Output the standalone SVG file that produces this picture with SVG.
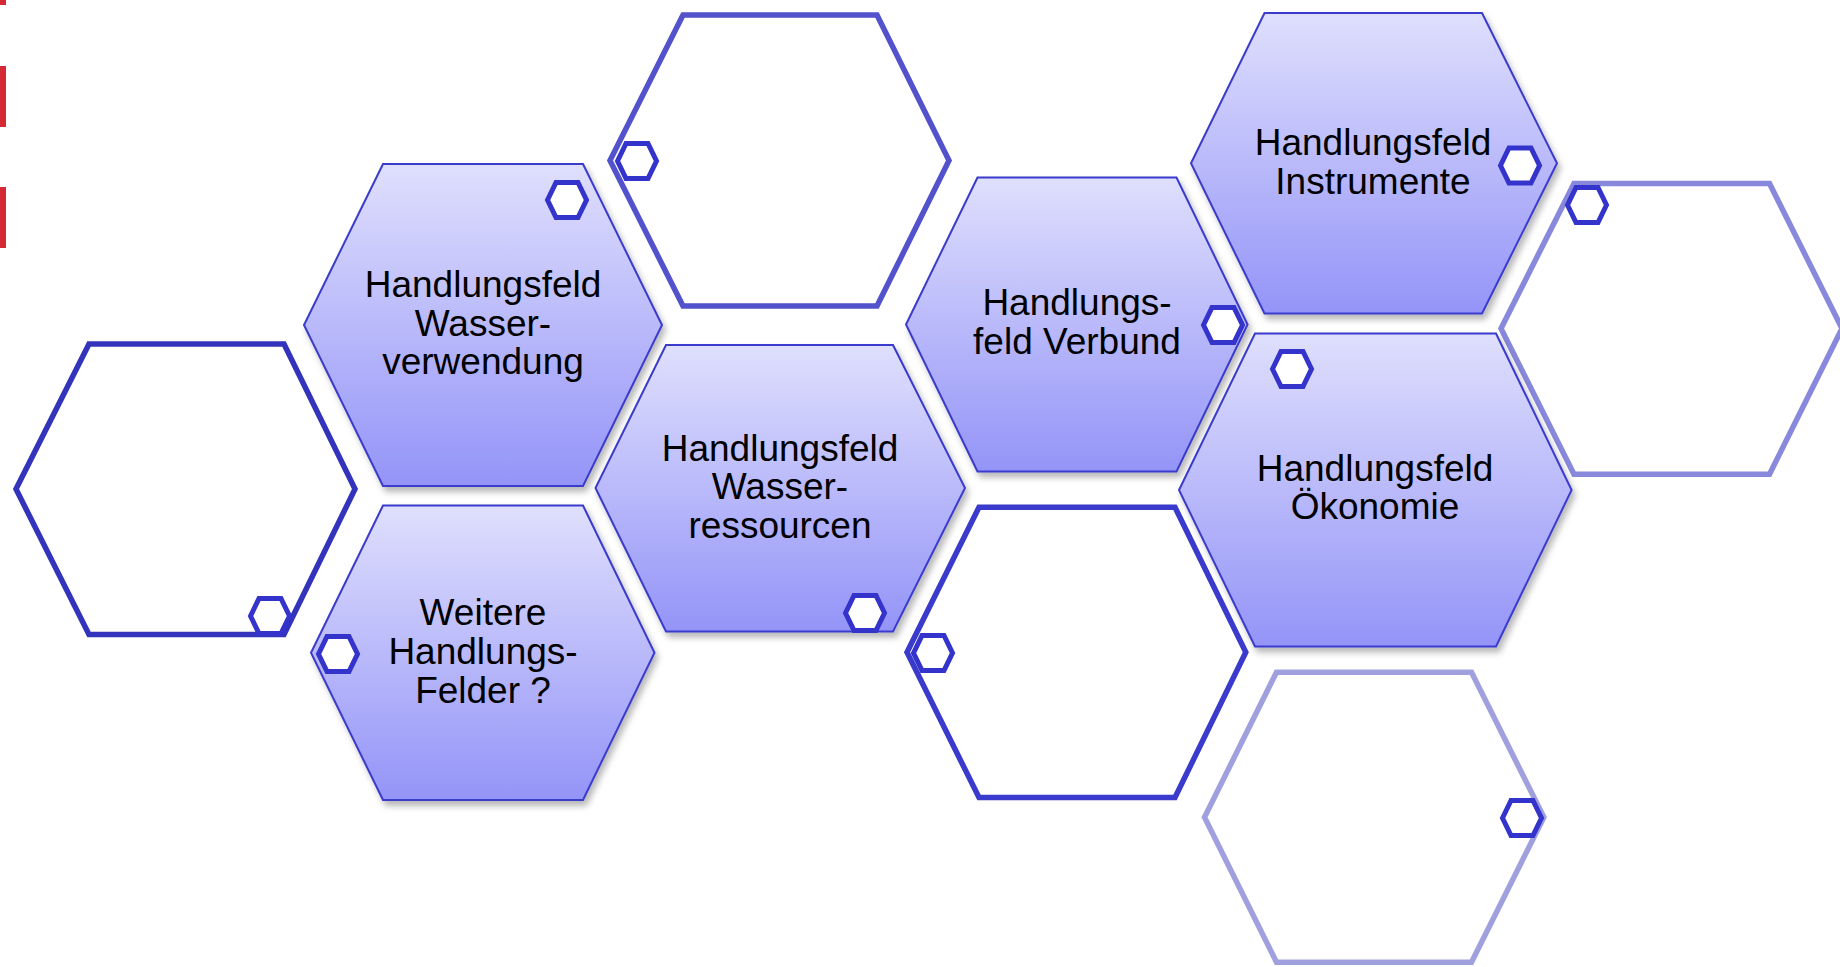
<svg xmlns="http://www.w3.org/2000/svg" width="1840" height="967" viewBox="0 0 1840 967">
<defs>
<linearGradient id="fillGrad" x1="0" y1="0" x2="0" y2="1">
<stop offset="0" stop-color="#dfdffd"/>
<stop offset="1" stop-color="#9494f8"/>
</linearGradient>
<filter id="shadow" x="-10%" y="-10%" width="125%" height="125%">
<feDropShadow dx="3" dy="5" stdDeviation="3" flood-color="#000" flood-opacity="0.28"/>
</filter>
<polygon id="mini" points="-19.5,0 -11,-17.5 11,-17.5 19.5,0 11,17.5 -11,17.5"/>
</defs>
<style>
.filled{fill:url(#fillGrad);stroke:#3a3acc;stroke-width:2;filter:url(#shadow)}
.empty{fill:none;stroke-width:5.5;stroke-linejoin:miter}
.mini{fill:#fff;stroke:#3434cc;stroke-width:5}
.lbl{font-family:"Liberation Sans",Arial,sans-serif;font-size:37px;fill:#000;text-anchor:middle}
.red{fill:#d42a36}
</style>
<rect width="1840" height="967" fill="#fff"/>
<g id="redbars">
<rect class="red" x="0" y="0" width="6" height="5"/>
<rect class="red" x="0" y="66" width="6" height="61"/>
<rect class="red" x="0" y="187" width="6" height="61"/>
</g>
<g id="connectors"/>
<g id="hexA">
<polygon class="empty" stroke="#3333bb" points="89,344 284,344 355,489 284,634.5 89,634.5 16,489"/>
<use href="#mini" class="mini" x="270" y="616"/>
</g>
<g id="hexTop">
<polygon class="empty" stroke="#5252cc" points="683,15 877,15 949,160.5 877,306 683,306 610,160.5"/>
<use href="#mini" class="mini" x="637" y="161"/>
</g>
<g id="hexH">
<polygon class="empty" stroke="#8888dc" points="1574,183.5 1769.5,183.5 1842,328.5 1769.5,474.2 1574,474.2 1501,328.5"/>
<use href="#mini" class="mini" x="1587" y="205"/>
</g>
<g id="hexI">
<polygon class="empty" stroke="#3a3acc" points="979,507.2 1175,507.2 1245.8,652.3 1175,797.5 979,797.5 907,652.3"/>
<use href="#mini" class="mini" x="933" y="653"/>
</g>
<g id="hexJ">
<polygon class="empty" stroke="#a0a0de" points="1276.5,672.2 1471.5,672.2 1543.9,817.3 1471.5,962.2 1276.5,962.2 1204.5,817.3"/>
<use href="#mini" class="mini" x="1522" y="818"/>
</g>
<g id="hexB">
<polygon class="filled" points="383,164 583,164 662,325 583,486 383,486 304,325"/>
<use href="#mini" class="mini" x="567" y="200"/>
<text class="lbl" x="483" y="297">Handlungsfeld</text>
<text class="lbl" x="483" y="335.5">Wasser-</text>
<text class="lbl" x="483" y="374">verwendung</text>
</g>
<g id="hexC">
<polygon class="filled" points="383,505.5 583,505.5 654.5,652.7 583,800 383,800 311,652.7"/>
<use href="#mini" class="mini" x="338" y="654"/>
<text class="lbl" x="483" y="625">Weitere</text>
<text class="lbl" x="483" y="664">Handlungs-</text>
<text class="lbl" x="483" y="702.5">Felder ?</text>
</g>
<g id="hexD">
<polygon class="filled" points="666,345 893,345 965,488 893,631.5 666,631.5 595.5,488"/>
<use href="#mini" class="mini" x="865" y="613"/>
<text class="lbl" x="780" y="460.5">Handlungsfeld</text>
<text class="lbl" x="780" y="499">Wasser-</text>
<text class="lbl" x="780" y="537.5">ressourcen</text>
</g>
<g id="hexE">
<polygon class="filled" points="977.5,177.5 1176.5,177.5 1247.6,324.5 1176.5,471.5 977.5,471.5 906,324.5"/>
<use href="#mini" class="mini" x="1223" y="325"/>
<text class="lbl" x="1077" y="315">Handlungs-</text>
<text class="lbl" x="1077" y="354">feld Verbund</text>
</g>
<g id="hexF">
<polygon class="filled" points="1264.5,13 1482,13 1557,163.3 1482,313.5 1264.5,313.5 1191,163.3"/>
<use href="#mini" class="mini" x="1520" y="165.5"/>
<text class="lbl" x="1373" y="155">Handlungsfeld</text>
<text class="lbl" x="1373" y="193.5">Instrumente</text>
</g>
<g id="hexG">
<polygon class="filled" points="1255,333.5 1496,333.5 1571.6,490 1496,646.5 1255,646.5 1179,490"/>
<use href="#mini" class="mini" x="1292" y="369"/>
<text class="lbl" x="1375" y="480.5">Handlungsfeld</text>
<text class="lbl" x="1375" y="519">Ökonomie</text>
</g>
</svg>
